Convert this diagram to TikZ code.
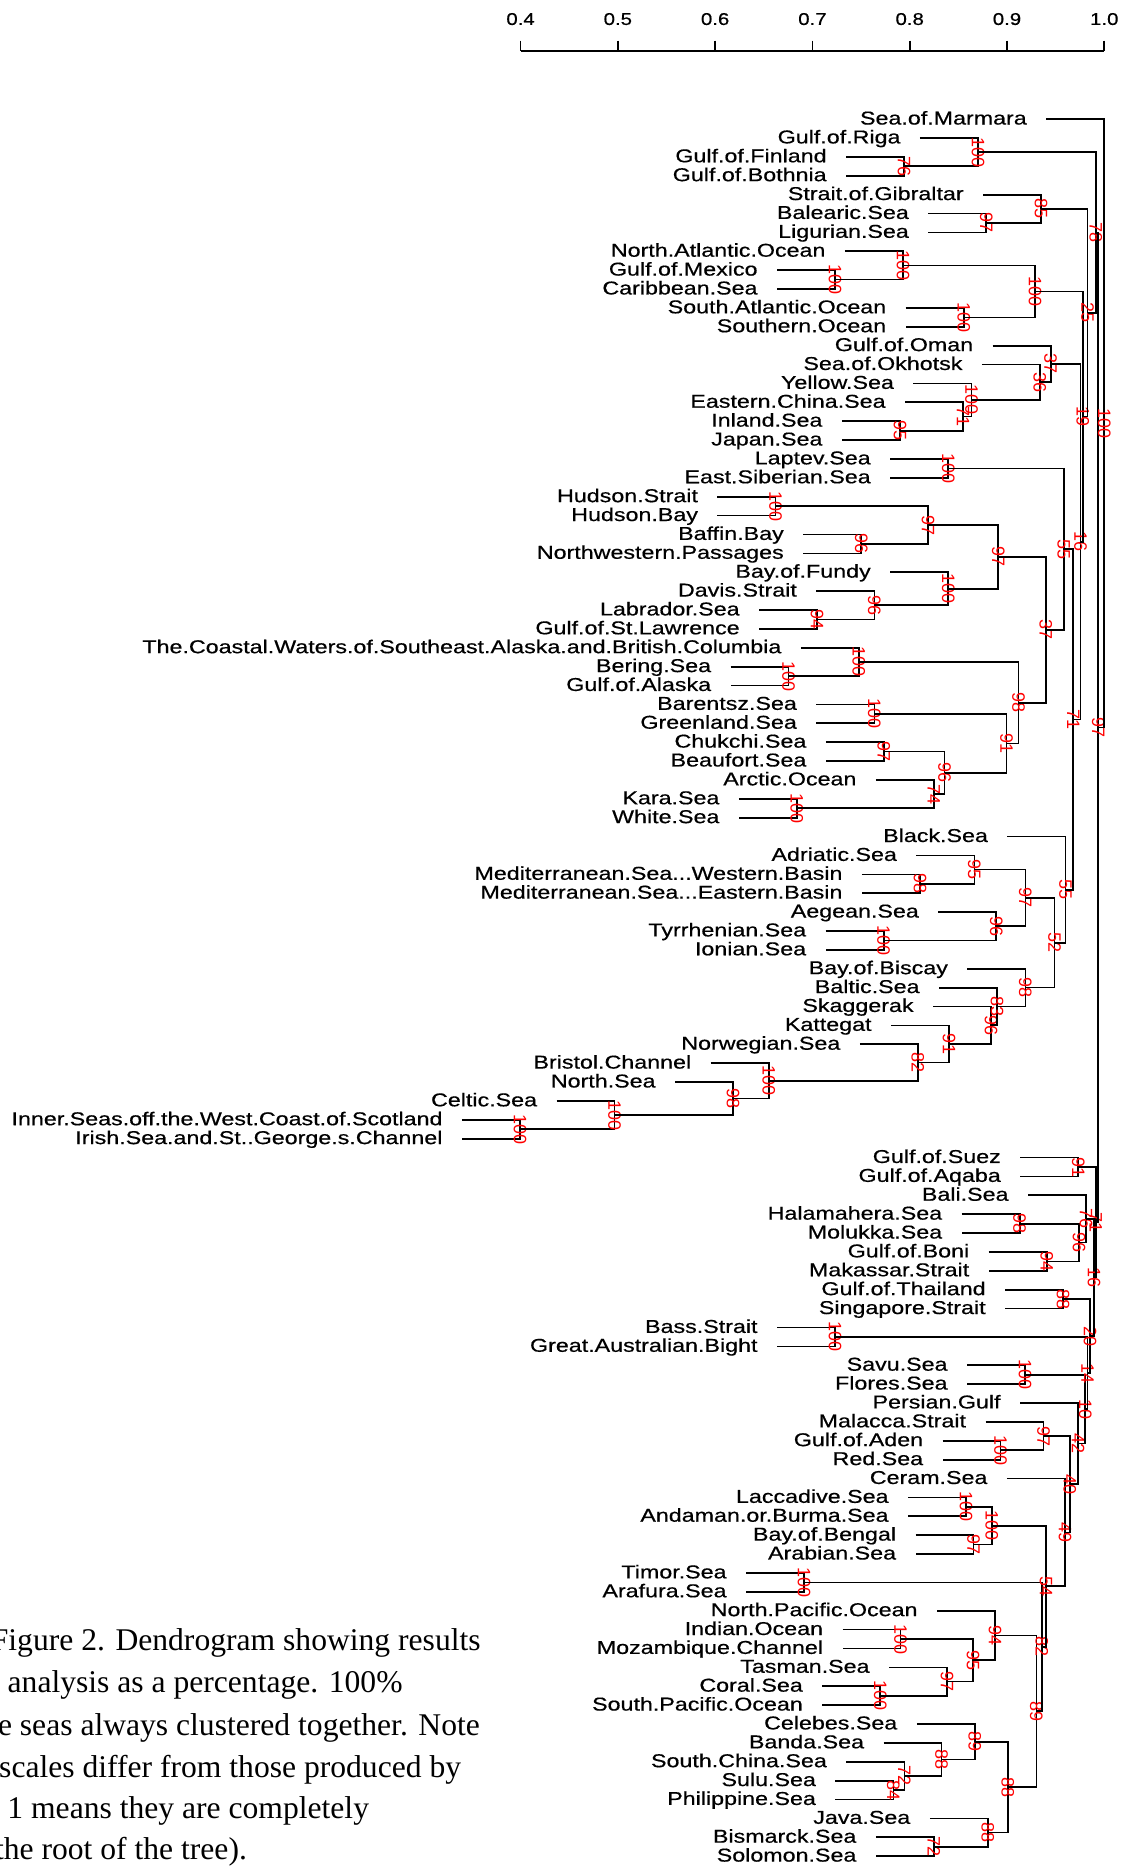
\documentclass[tikz,border=0pt]{standalone}
\usepackage{fontspec}
\setmainfont{Liberation Serif}
\newfontfamily\seafont[FakeBold=0.5]{Liberation Sans}
\newfontfamily\bootfont{Liberation Sans}
\tikzset{
  branch/.style={line width=0.85pt},
  sea/.style={font=\seafont\fontsize{9.3}{10}\selectfont, inner sep=0pt, xscale=1.25, anchor=base east},
  boot/.style={font=\bootfont\fontsize{9}{9}\selectfont, text=red, inner sep=0pt, rotate=-90},
  scalelab/.style={font=\seafont\fontsize{8.5}{9}\selectfont, inner sep=0pt, xscale=1.2},
  capline/.style={font=\fontsize{15.8}{19}\selectfont, inner sep=0pt, anchor=base west}
}
\begin{document}
\begin{tikzpicture}[x=0.5955pt, y=-0.5955pt]

	\useasboundingbox (0,0) rectangle (957,1567.3);
	\clip (0,0) rectangle (957,1567.3);

	\draw[branch] (437,43) -- (927,43);
	\foreach \k/\v in {0/0.4,1/0.5,2/0.6,3/0.7,4/0.8,5/0.9,6/1.0} {
		\draw[branch] ({437+81.667*\k},34) -- ({437+81.667*\k},43);
		\node[scalelab] (ax\k) at ({437+81.667*\k},16) {\v};
	}

	\foreach \n/\r/\x/\lbl in {
		mar/1/878.3/Sea.of.Marmara, rig/2/772.3/Gulf.of.Riga,
		fin/3/710.3/Gulf.of.Finland, bot/4/710.3/Gulf.of.Bothnia,
		gib/5/825.3/Strait.of.Gibraltar, bal/6/779.3/Balearic.Sea,
		lig/7/779.3/Ligurian.Sea, nat/8/709.3/North.Atlantic.Ocean,
		mex/9/652.3/Gulf.of.Mexico, car/10/652.3/Caribbean.Sea,
		sat/11/760.3/South.Atlantic.Ocean, sou/12/760.3/Southern.Ocean,
		oma/13/833.3/Gulf.of.Oman, okh/14/824.3/Sea.of.Okhotsk,
		yel/15/766.8/Yellow.Sea, ech/16/759.8/Eastern.China.Sea,
		inl/17/706.8/Inland.Sea, jap/18/706.8/Japan.Sea,
		lap/19/747.3/Laptev.Sea, esi/20/747.3/East.Siberian.Sea,
		hst/21/602.3/Hudson.Strait, hba/22/602.3/Hudson.Bay,
		baf/23/674.3/Baffin.Bay, nwp/24/674.3/Northwestern.Passages,
		fun/25/747.3/Bay.of.Fundy, dav/26/685.3/Davis.Strait,
		lab/27/637.3/Labrador.Sea, stl/28/637.3/Gulf.of.St.Lawrence,
		coa/29/672.3/The.Coastal.Waters.of.Southeast.Alaska.and.British.Columbia,
		ber/30/613.3/Bering.Sea, ala/31/613.3/Gulf.of.Alaska,
		bar/32/685.3/Barentsz.Sea, gre/33/685.3/Greenland.Sea,
		chu/34/693.3/Chukchi.Sea, bea/35/693.3/Beaufort.Sea,
		arc/36/735.3/Arctic.Ocean, kar/37/620.3/Kara.Sea,
		whi/38/620.3/White.Sea, bla/39/845.7/Black.Sea,
		adr/40/769.3/Adriatic.Sea,
		mdw/41/723.6/{Mediterranean.Sea...Western.Basin},
		mde/42/723.6/{Mediterranean.Sea...Eastern.Basin},
		aeg/43/787.7/Aegean.Sea, tyr/44/693.1/Tyrrhenian.Sea,
		ion/45/693.1/Ionian.Sea, bis/46/812.1/Bay.of.Biscay,
		blt/47/788.3/Baltic.Sea, ska/48/783.3/Skaggerak,
		kat/49/748/Kattegat, nor/50/721.8/Norwegian.Sea,
		bri/51/596.6/Bristol.Channel, nse/52/566.7/North.Sea,
		cel/53/467.2/Celtic.Sea,
		inn/54/387.8/Inner.Seas.off.the.West.Coast.of.Scotland,
		iri/55/387.8/{Irish.Sea.and.St..George.s.Channel},
		sue/56/856.5/Gulf.of.Suez, aqa/57/856.5/Gulf.of.Aqaba,
		bli/58/863/Bali.Sea, hal/59/807.3/Halamahera.Sea,
		mol/60/807.3/Molukka.Sea, bon/61/830/Gulf.of.Boni,
		mak/62/830/Makassar.Strait, tha/63/843.8/Gulf.of.Thailand,
		sng/64/843.8/Singapore.Strait, bas/65/652.3/Bass.Strait,
		gab/66/652.3/Great.Australian.Bight, sav/67/811.8/Savu.Sea,
		flo/68/811.8/Flores.Sea, per/69/856.3/Persian.Gulf,
		mal/70/827.3/Malacca.Strait, ade/71/791.3/Gulf.of.Aden,
		rds/72/791.3/Red.Sea, cer/73/845.3/Ceram.Sea,
		lac/74/762.3/Laccadive.Sea, adm/75/762.3/Andaman.or.Burma.Sea,
		ben/76/768.6/Bay.of.Bengal, ara/77/768.6/Arabian.Sea,
		tim/78/626.3/Timor.Sea, arf/79/626.3/Arafura.Sea,
		npa/80/786.6/North.Pacific.Ocean, ind/81/707.3/Indian.Ocean,
		moz/82/707.3/Mozambique.Channel, tas/83/746.3/Tasman.Sea,
		cor/84/690.3/Coral.Sea, spa/85/690.3/South.Pacific.Ocean,
		ceb/86/769.6/Celebes.Sea, ban/87/741.7/Banda.Sea,
		sch/88/710.5/South.China.Sea, sul/89/701.3/Sulu.Sea,
		phi/90/701.3/Philippine.Sea, jav/91/780.5/Java.Sea,
		bsm/92/735.3/Bismarck.Sea, sol/93/735.3/Solomon.Sea} {
		\coordinate (\n) at (\x,{100+15.85*(\r-1)});
		\node[sea] (t\n) at ([xshift=-9.5pt,yshift=-2.7pt]\n) {\lbl};
	}

	\foreach \n/\x/\a/\b/\v in {
		n76f/759/fin/bot/76, n100R/821/rig/n76f/100,
		n97bl/828/bal/lig/97, n85/874/gib/n97bl/85,
		n100mc/701/mex/car/100, n100a/758/nat/n100mc/100,
		n100sa/809/sat/sou/100, n100b/869/n100a/n100sa/100,
		n95j/755.5/inl/jap/95, n71y/808.5/ech/n95j/71,
		n100y/815.5/yel/n71y/100, n36/873/okh/n100y/36,
		n37o/882/oma/n36/37, nlap/796/lap/esi/100,
		n100h/651/hst/hba/100, n96nw/723/baf/nwp/96,
		n97h/779/n100h/n96nw/97, n94/686/lab/stl/94,
		n96d/734/dav/n94/96, n100f/796/fun/n96d/100,
		n97x/838/n97h/n100f/97, n100ba/662/ber/ala/100,
		n100c/721/coa/n100ba/100, n100bg/734/bar/gre/100,
		n97cb/742/chu/bea/97, n100kw/669/kar/whi/100,
		n74/784/arc/n100kw/74, n96a/793/n97cb/n74/96,
		n91/845/n100bg/n96a/91, n98/855/n100c/n91/98,
		n37b/878/n97x/n98/37, n55/893/nlap/n37b/55,
		n98m/772.3/mdw/mde/98, n95m/818/adr/n98m/95,
		n100ti/741.8/tyr/ion/100, n96ae/836.4/aeg/n100ti/96,
		n97m/860.8/n95m/n96ae/97, nI/436.5/inn/iri/100,
		nC/515.9/cel/nI/100, nN/615.4/nse/nC/98,
		nB/645.3/bri/nN/100, n82k/770.5/nor/nB/82,
		n91k/796.7/kat/n82k/91, n96s/832/ska/n91k/96,
		n83/837/blt/n96s/83, n98b/860.8/bis/n83/98,
		n52/885.2/n97m/n98b/52, n55m/894.4/bla/n52/55,
		n71u/901/n55/n55m/71, n16/907/n37o/n71u/16,
		n19/909/n100b/n16/19, n25/913/n85/n19/25,
		n78/920/n100R/n25/78,
		n91s/905.2/sue/aqa/91, n98h/856/hal/mol/98,
		n94b/878.7/bon/mak/94, n96bm/905.8/n98h/n94b/96,
		n76/911.7/bli/n96bm/76, n88t/892.5/tha/sng/88,
		n100bs/701/bas/gab/100, n100sf/860.5/sav/flo/100,
		n100ar/840/ade/rds/100, n97ma/876/mal/n100ar/97,
		n100la/811/lac/adm/100, n97ba/817.3/ben/ara/97,
		n100lb/832.6/n100la/n97ba/100, n100ta/675/tim/arf/100,
		n100im/756/ind/moz/100, n100cs/739/cor/spa/100,
		n97tc/795/tas/n100cs/97, n95/816.8/n100im/n97tc/95,
		n94np/835.3/npa/n95/94, n84sp/750/sul/phi/84,
		n72sc/759.2/sch/n84sp/72, n88bd/790.4/ban/n72sc/88,
		n89cel/818.3/ceb/n88bd/89, n72bs/784/bsm/sol/72,
		n88j/829.2/jav/n72bs/88, n99/846/n89cel/n88j/88,
		n89big/870/n94np/n99/89, n82/874.5/n100ta/n89big/82,
		n54/878/n100lb/n82/54, n49/894/cer/n54/49,
		n40/898/n97ma/n49/40, n42/905/per/n40/42,
		n10/911/n100sf/n42/10, n14/913/n100bs/n10/14,
		n20/915/n88t/n14/20, n16b/918.5/n76/n20/16,
		nQ/920/n91s/n16b/71, n97/922/n78/nQ/97,
		root/927/mar/n97/100} {
		\path (\a) -- (\b) coordinate[midway] (mid);
		\coordinate (gx) at (\x,0);
		\coordinate (\n) at (mid -| gx);
		\draw[branch] (\a) -| (\n) |- (\b);
		\node[boot] (v\n) at (\n) {\v};
	}

	\node[capline] (cap1) at (-8,1385.2) {Figure 2. Dendrogram showing results};
	\node[capline] (cap2) at (6.1,1420.4) {analysis as a percentage. 100\%};
	\node[capline] (cap3) at (-2,1456.5) {e seas always clustered together. Note};
	\node[capline] (cap4) at (-1,1491.8) {scales differ from those produced by};
	\node[capline] (cap5) at (5.9,1526.2) {1 means they are completely};
	\node[capline] (cap6) at (-4.5,1561.4) {the root of the tree).};

\end{tikzpicture}
\end{document}
